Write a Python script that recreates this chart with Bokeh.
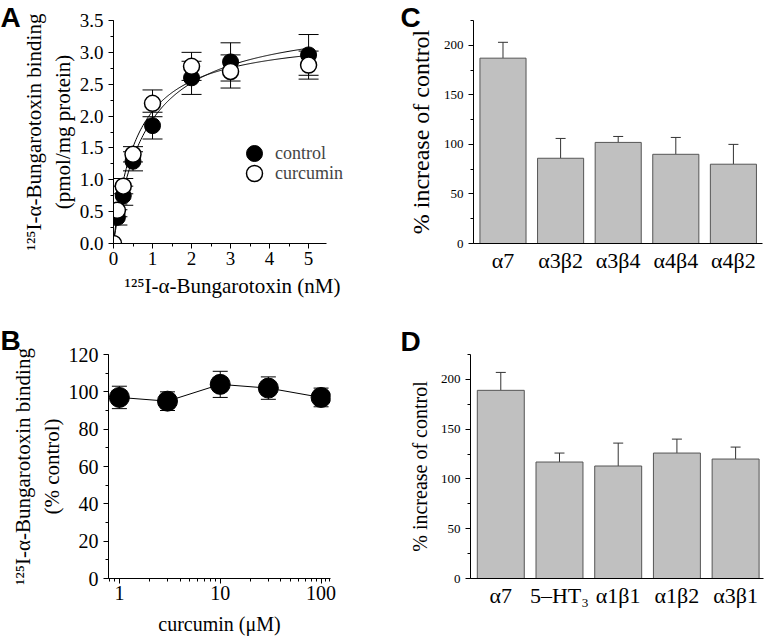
import numpy as np
from bokeh.plotting import figure
from bokeh.models import (ColumnDataSource, Whisker, TeeHead, Legend, LegendItem,
                          SingleIntervalTicker, FixedTicker, PrintfTickFormatter, Range1d)
from bokeh.layouts import row, column
from bokeh.embed import file_html
from bokeh.resources import INLINE

SERIF = "Liberation Serif"
SANS = "Liberation Sans"

# ---------------- data ----------------
# Panel A: saturation binding of 125I-alpha-bungarotoxin
conc_control = [0.1, 0.25, 0.5, 1, 2, 3, 5]
bind_control = [0.41, 0.75, 1.29, 1.85, 2.60, 2.85, 2.96]
sem_control = [0.12, 0.15, 0.15, 0.21, 0.26, 0.30, 0.32]
conc_curcumin = [0, 0.1, 0.25, 0.5, 1, 2, 3, 5]
bind_curcumin = [0.0, 0.52, 0.90, 1.40, 2.20, 2.78, 2.70, 2.80]
sem_curcumin = [0.0, 0.10, 0.12, 0.12, 0.21, 0.22, 0.26, 0.22]
bmax_control, kd_control = 3.58, 0.84
bmax_curcumin, kd_curcumin = 3.30, 0.59

# Panel B: binding vs curcumin concentration
curc_conc = [1, 3, 10, 30, 100]
pct_control = [97, 95, 104, 102, 97]
pct_sem = [6, 5, 7, 6, 5]

# Panel C
subtypes_c = ["α7", "α3β2", "α3β4", "α4β4", "α4β2"]
increase_c = [187, 86, 102, 90, 80]
sem_c = [16, 20, 6, 17, 20]

# Panel D
subtypes_d = ["α7", "5–HT₃", "α1β1", "α1β2", "α3β1"]
increase_d = [189, 117, 113, 126, 120]
sem_d = [18, 9, 23, 14, 12]


def make_fig(w, h, bl, br, bt, bb, xr, yr, letter, letter_standoff, x_axis_type="linear"):
    p = figure(width=w, height=h, x_range=xr, y_range=yr, x_axis_type=x_axis_type,
               output_backend="svg", toolbar_location=None,
               min_border_left=bl, min_border_right=br,
               min_border_top=bt, min_border_bottom=bb)
    p.outline_line_color = None
    p.xgrid.visible = False
    p.ygrid.visible = False
    for ax in (p.xaxis[0], p.yaxis[0]):
        ax.axis_line_color = "black"
        ax.major_tick_line_color = "black"
        ax.minor_tick_line_color = "black"
        ax.major_tick_in = 0
        ax.major_tick_out = 5
        ax.minor_tick_in = 0
        ax.minor_tick_out = 3
        ax.major_label_text_font = SERIF
        ax.axis_label_text_font = SERIF
        ax.axis_label_text_font_style = "normal"
        ax.major_label_text_color = "black"
        ax.axis_label_text_color = "black"
    # panel letter as the figure title, pulled to the canvas' left edge
    p.title.text = letter
    p.title.text_font = SANS
    p.title.text_font_style = "bold"
    p.title.text_font_size = "28px"
    p.title.text_color = "black"
    p.title.align = "left"
    p.title.vertical_align = "bottom"
    p.title.offset = -bl
    p.title.standoff = letter_standoff
    return p


TOP_H, BOT_H = 300, 337

# ---------------- Panel A ----------------
A_w = 400
pA = make_fig(A_w, TOP_H, 113, 49, 20, 54, Range1d(0, 6.1), Range1d(0, 3.5), "A", -24)
pA.xaxis.bounds = (0, 5.45)
pA.xaxis.ticker = SingleIntervalTicker(interval=1, num_minor_ticks=2)
pA.yaxis.ticker = SingleIntervalTicker(interval=0.5, num_minor_ticks=2)
pA.yaxis.formatter = PrintfTickFormatter(format="%.1f")
pA.xaxis.major_label_text_font_size = "19px"
pA.yaxis.major_label_text_font_size = "19px"
pA.xaxis.axis_label = "¹²⁵I-α-Bungarotoxin (nM)"
pA.yaxis.axis_label = "¹²⁵I-α-Bungarotoxin binding\n(pmol/mg protein)"
pA.xaxis.axis_label_text_font_size = "21px"
pA.yaxis.axis_label_text_font_size = "21px"
pA.xaxis.major_label_standoff = 3
pA.xaxis.axis_label_standoff = 6
pA.yaxis.axis_label_standoff = 2

xfit = np.linspace(0, 5, 200)
pA.line(xfit, bmax_control * xfit / (kd_control + xfit), line_color="black", line_width=1)
pA.line(xfit, bmax_curcumin * xfit / (kd_curcumin + xfit), line_color="black", line_width=1)

src_ctrl = ColumnDataSource(dict(x=conc_control, y=bind_control,
                                 lo=[b - s for b, s in zip(bind_control, sem_control)],
                                 hi=[b + s for b, s in zip(bind_control, sem_control)]))
src_curc = ColumnDataSource(dict(x=conc_curcumin, y=bind_curcumin,
                                 lo=[b - s for b, s in zip(bind_curcumin, sem_curcumin)],
                                 hi=[b + s for b, s in zip(bind_curcumin, sem_curcumin)]))
for src in (src_ctrl, src_curc):
    pA.add_layout(Whisker(source=src, base="x", lower="lo", upper="hi",
                          line_color="black", line_width=1,
                          lower_head=TeeHead(size=20, line_color="black"),
                          upper_head=TeeHead(size=20, line_color="black")))
r_ctrl = pA.scatter("x", "y", source=src_ctrl, size=16, fill_color="black", line_color="black")
r_curc = pA.scatter("x", "y", source=src_curc, size=16, fill_color="white",
                    line_color="black", line_width=1.5)
for lab, rend, loc_y in (("control", r_ctrl, 70), ("curcumin", r_curc, 50)):
    pA.add_layout(Legend(items=[LegendItem(label=lab, renderers=[rend])],
                         location=(121, loc_y), glyph_width=40, glyph_height=40,
                         padding=0, margin=0, border_line_color=None,
                         background_fill_alpha=0, label_text_font=SERIF,
                         label_text_font_size="18px", label_standoff=1, label_width=80))

# ---------------- Panel B ----------------
pB = make_fig(A_w, BOT_H, 108, 70, 54, 57, Range1d(0.78, 124), Range1d(0, 120), "B", -2,
              x_axis_type="log")
minorB = [0.8, 0.9] + [k for k in range(2, 10)] + [10 * k for k in range(2, 10)] + [110, 120]
pB.xaxis.ticker = FixedTicker(ticks=[1, 10, 100], minor_ticks=minorB)
pB.xaxis.formatter = PrintfTickFormatter(format="%d")
pB.yaxis.ticker = SingleIntervalTicker(interval=20, num_minor_ticks=2)
pB.xaxis.major_label_text_font_size = "20px"
pB.yaxis.major_label_text_font_size = "20px"
pB.xaxis.axis_label = "curcumin (μM)"
pB.yaxis.axis_label = "¹²⁵I-α-Bungarotoxin binding\n(% control)"
pB.xaxis.axis_label_text_font_size = "20px"
pB.yaxis.axis_label_text_font_size = "21px"
pB.xaxis.major_label_standoff = 2
pB.xaxis.axis_label_standoff = 10
pB.yaxis.axis_label_standoff = 2

srcB = ColumnDataSource(dict(x=curc_conc, y=pct_control,
                             lo=[v - s for v, s in zip(pct_control, pct_sem)],
                             hi=[v + s for v, s in zip(pct_control, pct_sem)]))
pB.line("x", "y", source=srcB, line_color="black", line_width=1)
pB.add_layout(Whisker(source=srcB, base="x", lower="lo", upper="hi",
                      line_color="black", line_width=1,
                      lower_head=TeeHead(size=15, line_color="black"),
                      upper_head=TeeHead(size=15, line_color="black")))
pB.scatter("x", "y", source=srcB, size=20, fill_color="black", line_color="black")


# ---------------- Panels C and D ----------------
def bar_panel(w, h, bl, br, bt, bb, xr, labels, vals, sems, title_size, letter, lso):
    p = make_fig(w, h, bl, br, bt, bb, xr, Range1d(0, 225), letter, lso)
    idx = list(range(len(labels)))
    src = ColumnDataSource(dict(x=idx, top=vals, hi=[v + s for v, s in zip(vals, sems)]))
    p.add_layout(Whisker(source=src, base="x", lower="top", upper="hi",
                         line_color="#333333", line_width=1, lower_head=None,
                         upper_head=TeeHead(size=10, line_color="#333333")))
    p.vbar(x="x", top="top", width=0.8, source=src, fill_color="#c0c0c0",
           line_color="#555555", line_width=1)
    p.xaxis.ticker = FixedTicker(ticks=idx)
    p.xaxis.major_label_overrides = {i: lab for i, lab in zip(idx, labels)}
    p.xaxis.major_tick_out = 0
    p.xaxis.major_label_text_font_size = "22px"
    p.xaxis.major_label_standoff = 4
    p.yaxis.ticker = SingleIntervalTicker(interval=50, num_minor_ticks=2)
    p.yaxis.major_label_text_font_size = "13px"
    p.yaxis.axis_label = "% increase of control"
    p.yaxis.axis_label_text_font_size = title_size
    p.yaxis.axis_label_standoff = 7
    return p


C_w = 765 - 400
pC = bar_panel(C_w, TOP_H, 73, 3, 20, 53, Range1d(-0.512, 4.505),
               subtypes_c, increase_c, sem_c, "24px", "C", -24)
pD = bar_panel(C_w, BOT_H, 70, 2, 53, 56, Range1d(-0.516, 4.475),
               subtypes_d, increase_d, sem_d, "20px", "D", -4)

layout = column(row(pA, pC), row(pB, pD))
open("out.html", "w").write(file_html(layout, INLINE))
